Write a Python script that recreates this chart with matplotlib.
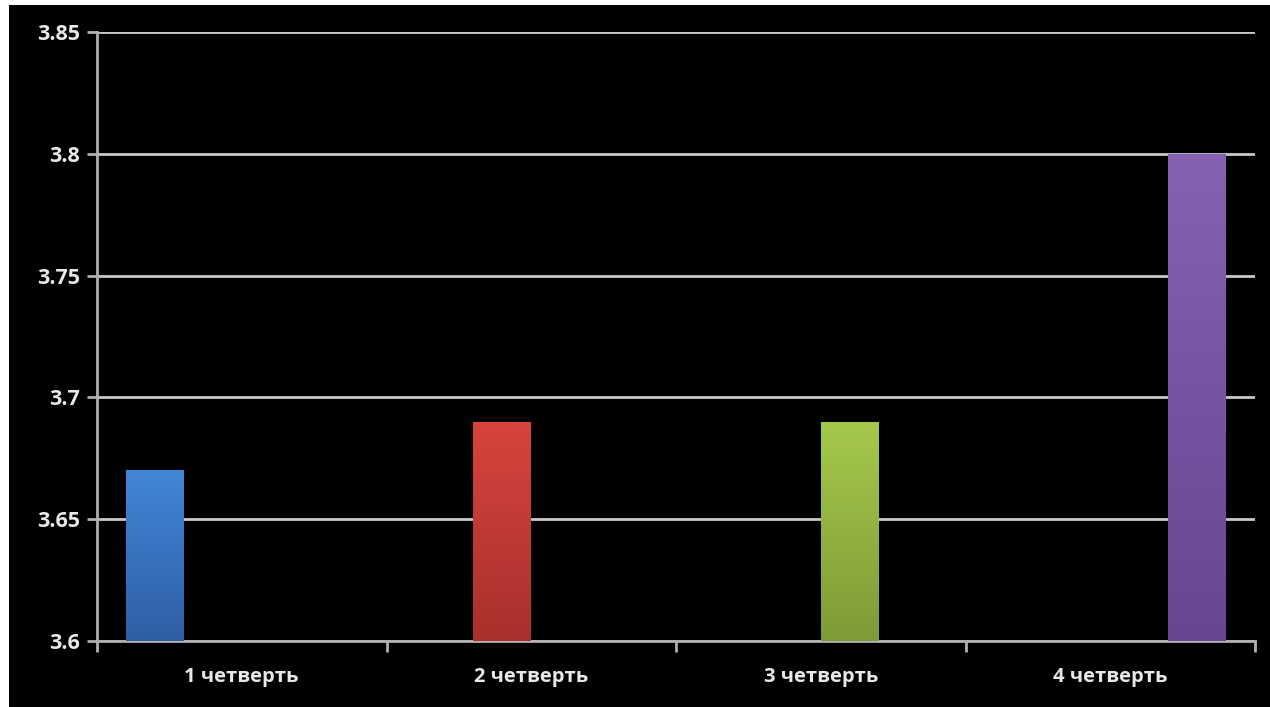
import numpy as np
import matplotlib.pyplot as plt
from matplotlib.colors import LinearSegmentedColormap
from matplotlib.patches import Rectangle

plt.rcParams['font.family'] = ['Open Sans', 'DejaVu Sans']
plt.rcParams['font.weight'] = 'bold'

quarters = ['1 четверть', '2 четверть', '3 четверть', '4 четверть']
values = [3.67, 3.69, 3.69, 3.80]
top_colors = ['#4286d8', '#d8443e', '#a5c94b', '#8562b4']
bottom_colors = ['#2e5fa4', '#a8302c', '#7d9b37', '#694690']
y_ticks = [3.6, 3.65, 3.7, 3.75, 3.8, 3.85]
y_labels = ['3.6', '3.65', '3.7', '3.75', '3.8', '3.85']

fig = plt.figure(figsize=(12.7, 7.07), dpi=100, facecolor='black')
# white strips along top and left edges of the original screenshot
fig.patches.append(Rectangle((0, 0), 9 / 1270, 1, transform=fig.transFigure,
                             facecolor='white', edgecolor='none', zorder=0))
fig.patches.append(Rectangle((0, 1 - 5 / 707), 1, 5 / 707, transform=fig.transFigure,
                             facecolor='white', edgecolor='none', zorder=0))

ax = fig.add_axes([97 / 1270, 66 / 707, 1158 / 1270, 609 / 707])
ax.set_facecolor('black')

n = len(quarters)
width = 0.2
x = np.arange(n)

for i, (v, c1, c2) in enumerate(zip(values, top_colors, bottom_colors)):
    pos = x[i] + (i - (n - 1) / 2) * width
    bar = ax.bar(pos, v - 3.6, bottom=3.6, width=width, color='none', zorder=3)[0]
    cmap = LinearSegmentedColormap.from_list('g%d' % i, [c2, c1])
    grad = np.linspace(0, 1, 256).reshape(-1, 1)
    im = ax.imshow(grad, cmap=cmap, origin='lower', aspect='auto',
                   extent=[pos - width / 2, pos + width / 2, 3.6, v], zorder=3)
    im.set_clip_path(bar)

ax.set_xlim(-0.5, n - 0.5)
ax.set_ylim(3.6, 3.85)

ax.set_yticks(y_ticks)
ax.set_yticklabels(y_labels)
ax.yaxis.grid(True, color='#c8c8c8', linewidth=2)
ax.set_axisbelow(True)

ax.set_xticks(x)
ax.set_xticklabels(quarters)
ax.set_xticks(np.arange(-0.5, n, 1), minor=True)
ax.tick_params(axis='x', which='major', length=0, pad=19, labelsize=14.5, colors='#e8e8e8')
ax.tick_params(axis='x', which='minor', length=8, width=2, color='#b0b0b0', direction='out')
ax.tick_params(axis='y', length=7, width=2, color='#b0b0b0', pad=5, labelsize=15.5,
               labelcolor='#e8e8e8')

for side in ['top', 'right']:
    ax.spines[side].set_visible(False)
for side in ['left', 'bottom']:
    ax.spines[side].set_color('#b0b0b0')
    ax.spines[side].set_linewidth(2)

fig.savefig('out.png', dpi=100, facecolor='black')
